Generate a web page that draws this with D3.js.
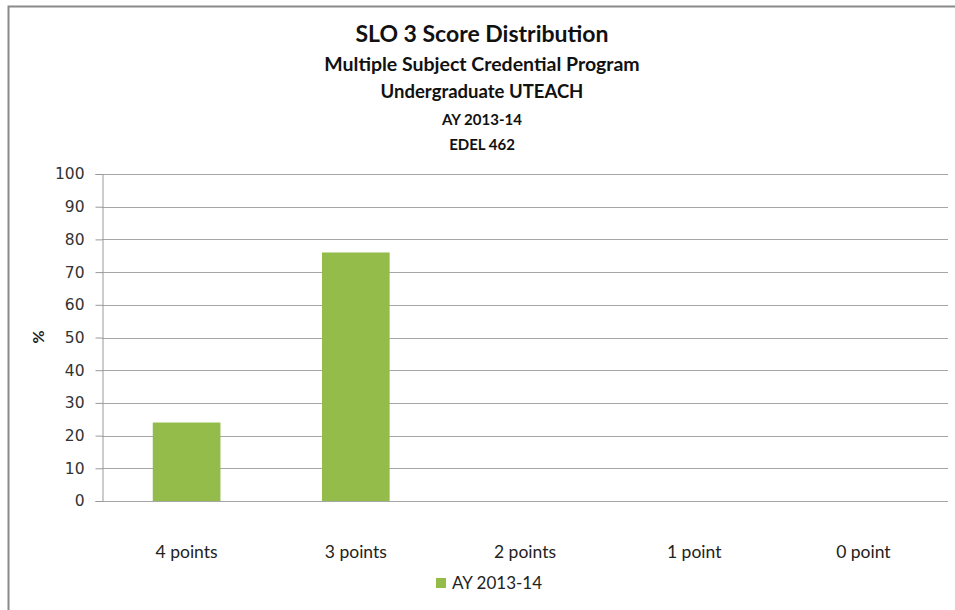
<!DOCTYPE html>
<html>
<head>
<meta charset="utf-8">
<script src="https://cdn.jsdelivr.net/npm/d3@7"></script>
<style>
  body { margin: 0; background: #fff; }
  svg { display: block; }
</style>
</head>
<body>
<svg id="chart" width="955" height="610"></svg>
<script>
const categories = ['4 points', '3 points', '2 points', '1 point', '0 point'];
const values = [24, 76, 0, 0, 0];
const yTicks = [0, 10, 20, 30, 40, 50, 60, 70, 80, 90, 100];
const titleLines = ['SLO 3 Score Distribution', 'Multiple Subject Credential Program', 'Undergraduate UTEACH', 'AY 2013-14', 'EDEL 462'];
const seriesName = 'AY 2013-14';

const svg = d3.select('#chart');
const margin = { left: 102, right: 7, top: 174, bottom: 109 };
const width = 955 - margin.left - margin.right;
const height = 610 - margin.top - margin.bottom;
const barColor = '#93BC4B';
const textFont = 'Lato, "Open Sans", sans-serif';

// chart frame
svg.append('rect')
    .attr('x', 8.5)
    .attr('y', 6.5)
    .attr('width', 960)
    .attr('height', 620)
    .attr('fill', 'none')
    .attr('stroke', '#8a8a8a')
    .attr('stroke-width', 2);

// titles
const titleY = [42, 71, 98, 125, 150];
const titleSize = [23, 19.5, 18.5, 15, 15];
svg.append('g')
    .selectAll('text')
    .data(titleLines)
    .join('text')
    .attr('x', 482)
    .attr('y', (_, i) => titleY[i])
    .attr('text-anchor', 'middle')
    .attr('font-family', textFont)
    .attr('font-weight', 'bold')
    .attr('font-size', (_, i) => titleSize[i])
    .attr('fill', '#111')
    .text(d => d);

const x = d3.scaleBand()
    .domain(categories)
    .range([0, width])
    .paddingInner(0.6)
    .paddingOuter(0.3);

const y = d3.scaleLinear()
    .domain([0, 100])
    .range([height, 0]);

const g = svg.append('g')
    .attr('transform', `translate(${margin.left}, ${margin.top})`);

// gridlines
g.append('g')
    .selectAll('line')
    .data(yTicks)
    .join('line')
    .attr('x1', 0)
    .attr('x2', width)
    .attr('y1', d => Math.round(y(d)) + 0.5)
    .attr('y2', d => Math.round(y(d)) + 0.5)
    .attr('stroke', '#a6a6a6')
    .attr('stroke-width', 1);

// y axis
const yAxis = g.append('g')
    .attr('transform', 'translate(0.5, 0)')
    .call(d3.axisLeft(y).tickValues(yTicks).tickSize(7).tickPadding(11));
yAxis.selectAll('text')
    .attr('font-family', 'Verdana, "DejaVu Sans", sans-serif')
    .attr('font-size', 15.5)
    .attr('fill', '#333');
yAxis.selectAll('line').attr('stroke', '#999');
yAxis.select('.domain').attr('stroke', '#999');

// bars
g.append('g')
    .selectAll('rect')
    .data(categories.map((c, i) => ({ c, v: values[i] })))
    .join('rect')
    .attr('x', d => x(d.c))
    .attr('y', d => y(d.v))
    .attr('width', x.bandwidth())
    .attr('height', d => height - y(d.v))
    .attr('fill', barColor);

// category labels
g.append('g')
    .selectAll('text')
    .data(categories)
    .join('text')
    .attr('x', d => x(d) + x.bandwidth() / 2)
    .attr('y', height + 57)
    .attr('text-anchor', 'middle')
    .attr('font-family', textFont)
    .attr('font-size', 17.5)
    .attr('fill', '#222')
    .text(d => d);

// y axis title
svg.append('text')
    .attr('transform', 'translate(44, 337) rotate(-90)')
    .attr('text-anchor', 'middle')
    .attr('font-family', textFont)
    .attr('font-weight', 'bold')
    .attr('font-size', 16)
    .attr('fill', '#222')
    .text('%');

// legend
const legend = svg.append('g').attr('transform', 'translate(436, 583)');
legend.append('rect')
    .attr('x', 0)
    .attr('y', -5)
    .attr('width', 10)
    .attr('height', 10)
    .attr('fill', barColor);
legend.append('text')
    .attr('x', 16)
    .attr('y', 6)
    .attr('font-family', textFont)
    .attr('font-size', 17)
    .attr('fill', '#222')
    .text(seriesName);
</script>
</body>
</html>
